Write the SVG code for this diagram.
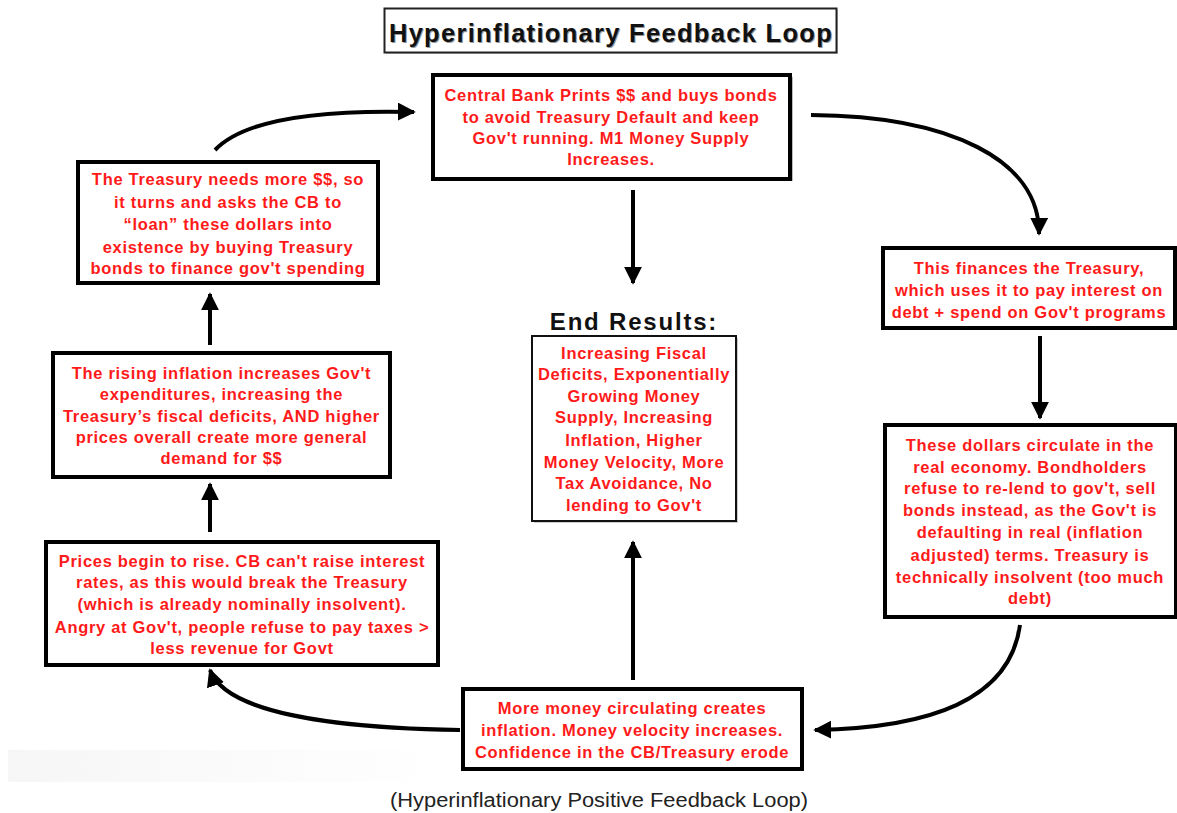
<svg xmlns="http://www.w3.org/2000/svg" width="1177" height="813" viewBox="0 0 1177 813">
<style>
.box{fill:#fff;stroke:#000;stroke-width:4}
.thin{fill:#fff;stroke:#111;stroke-width:2}
.sh{fill:#bbb}
.t{font-family:"Liberation Sans",Arial,sans-serif;font-weight:bold;font-size:16.5px;letter-spacing:0.7px;fill:#ff1a1a;text-anchor:middle}
.c{fill:none;stroke:#000;stroke-width:4}
</style>
<defs>
<marker id="ah" viewBox="0 0 10 10" refX="9" refY="5" markerWidth="4.5" markerHeight="4.5" markerUnits="strokeWidth" orient="auto">
<path d="M0,0 L10,5 L0,10 z" fill="#000"/>
</marker>
<linearGradient id="bg" x1="0" y1="0" x2="1" y2="0">
<stop offset="0" stop-color="#f6f6f6"/>
<stop offset="1" stop-color="#ffffff"/>
</linearGradient>
</defs>
<rect x="0" y="0" width="1177" height="813" fill="#fff"/>
<rect x="8" y="750" width="440" height="32" fill="url(#bg)"/>

<g id="title">
<rect x="386" y="10" width="452" height="44" fill="#ccc"/>
<rect x="384.5" y="8.5" width="452" height="44" fill="#fff" stroke="#222" stroke-width="2"/>
<text x="612" y="43" font-family="Liberation Sans,Arial,sans-serif" font-weight="bold" font-size="25.5" letter-spacing="1.3" fill="#999" text-anchor="middle">Hyperinflationary Feedback Loop</text>
<text x="611" y="41.5" font-family="Liberation Sans,Arial,sans-serif" font-weight="bold" font-size="25.5" letter-spacing="1.3" fill="#111" text-anchor="middle">Hyperinflationary Feedback Loop</text>
</g>

<g id="connectors">
<path class="c" d="M215,150 Q255,108 414,112" marker-end="url(#ah)"/>
<path class="c" d="M811,115 C950,116 1040,160 1039,234" marker-end="url(#ah)"/>
<path class="c" d="M1040,336 L1040,418" marker-end="url(#ah)"/>
<path class="c" d="M1020,625 C1010,700 930,728 815,730" marker-end="url(#ah)"/>
<path class="c" d="M460,730 C330,728 225,712 210,670" marker-end="url(#ah)"/>
<path class="c" d="M210,532 L210,484" marker-end="url(#ah)"/>
<path class="c" d="M210,345 L210,294" marker-end="url(#ah)"/>
<path class="c" d="M633,190 L633,283" marker-end="url(#ah)"/>
<path class="c" d="M633,680 L633,542" marker-end="url(#ah)"/>
</g>

<g id="n_cb">
<rect class="sh" x="435" y="77" width="358" height="104"/>
<rect class="box" x="433" y="75" width="357" height="104"/>
<text class="t" x="611" y="101">Central Bank Prints $$ and buys bonds</text>
<text class="t" x="611" y="123">to avoid Treasury Default and keep</text>
<text class="t" x="611" y="144">Gov't running. M1 Money Supply</text>
<text class="t" x="611" y="165">Increases.</text>
</g>

<g id="n_treasury">
<rect class="sh" x="80" y="164" width="300" height="121"/>
<rect class="box" x="78" y="162" width="300" height="121"/>
<text class="t" x="228" y="185">The Treasury needs more $$, so</text>
<text class="t" x="228" y="208">it turns and asks the CB to</text>
<text class="t" x="228" y="230">“loan” these dollars into</text>
<text class="t" x="228" y="253">existence by buying Treasury</text>
<text class="t" x="228" y="274">bonds to finance gov't spending</text>
</g>

<g id="n_finances">
<rect class="sh" x="885" y="250" width="292" height="80"/>
<rect class="box" x="883" y="248" width="292" height="80"/>
<text class="t" x="1029" y="274">This finances the Treasury,</text>
<text class="t" x="1029" y="296">which uses it to pay interest on</text>
<text class="t" x="1029" y="318">debt + spend on Gov't programs</text>
</g>

<g id="n_rising">
<rect class="sh" x="55" y="355" width="337" height="124"/>
<rect class="box" x="53" y="353" width="337" height="124"/>
<text class="t" x="221.5" y="379">The rising inflation increases Gov't</text>
<text class="t" x="221.5" y="400">expenditures, increasing the</text>
<text class="t" x="221.5" y="422">Treasury’s fiscal deficits, AND higher</text>
<text class="t" x="221.5" y="443">prices overall create more general</text>
<text class="t" x="221.5" y="464">demand for $$</text>
</g>

<g id="n_end">
<text x="634" y="330" font-family="Liberation Sans,Arial,sans-serif" font-weight="bold" font-size="24" letter-spacing="1.8" fill="#111" text-anchor="middle">End Results:</text>
<rect x="534" y="338" width="204" height="185" fill="#ccc"/>
<rect class="thin" x="532" y="336" width="204" height="185"/>
<text class="t" x="634" y="359">Increasing Fiscal</text>
<text class="t" x="634" y="380">Deficits, Exponentially</text>
<text class="t" x="634" y="402">Growing Money</text>
<text class="t" x="634" y="423">Supply, Increasing</text>
<text class="t" x="634" y="446">Inflation, Higher</text>
<text class="t" x="634" y="468">Money Velocity, More</text>
<text class="t" x="634" y="489">Tax Avoidance, No</text>
<text class="t" x="634" y="511">lending to Gov't</text>
</g>

<g id="n_dollars">
<rect class="sh" x="887" y="427" width="291" height="192"/>
<rect class="box" x="885" y="425" width="291" height="192"/>
<text class="t" x="1030" y="451">These dollars circulate in the</text>
<text class="t" x="1030" y="473">real economy. Bondholders</text>
<text class="t" x="1030" y="494">refuse to re-lend to gov't, sell</text>
<text class="t" x="1030" y="516">bonds instead, as the Gov't is</text>
<text class="t" x="1030" y="538">defaulting in real (inflation</text>
<text class="t" x="1030" y="561">adjusted) terms. Treasury is</text>
<text class="t" x="1030" y="583">technically insolvent (too much</text>
<text class="t" x="1030" y="604">debt)</text>
</g>

<g id="n_prices">
<rect class="sh" x="48" y="544" width="392" height="123"/>
<rect class="box" x="46" y="542" width="392" height="123"/>
<text class="t" x="242" y="567">Prices begin to rise. CB can't raise interest</text>
<text class="t" x="242" y="588">rates, as this would break the Treasury</text>
<text class="t" x="242" y="610">(which is already nominally insolvent).</text>
<text class="t" x="242" y="633">Angry at Gov't, people refuse to pay taxes &gt;</text>
<text class="t" x="242" y="654">less revenue for Govt</text>
</g>

<g id="n_money">
<rect class="sh" x="465" y="691" width="339" height="80"/>
<rect class="box" x="463" y="689" width="339" height="80"/>
<text class="t" x="632" y="714">More money circulating creates</text>
<text class="t" x="632" y="736">inflation. Money velocity increases.</text>
<text class="t" x="632" y="758">Confidence in the CB/Treasury erode</text>
</g>

<text x="599" y="807" font-family="Liberation Sans,Arial,sans-serif" font-size="20" fill="#222" text-anchor="middle" textLength="418" lengthAdjust="spacingAndGlyphs">(Hyperinflationary Positive Feedback Loop)</text>
</svg>
